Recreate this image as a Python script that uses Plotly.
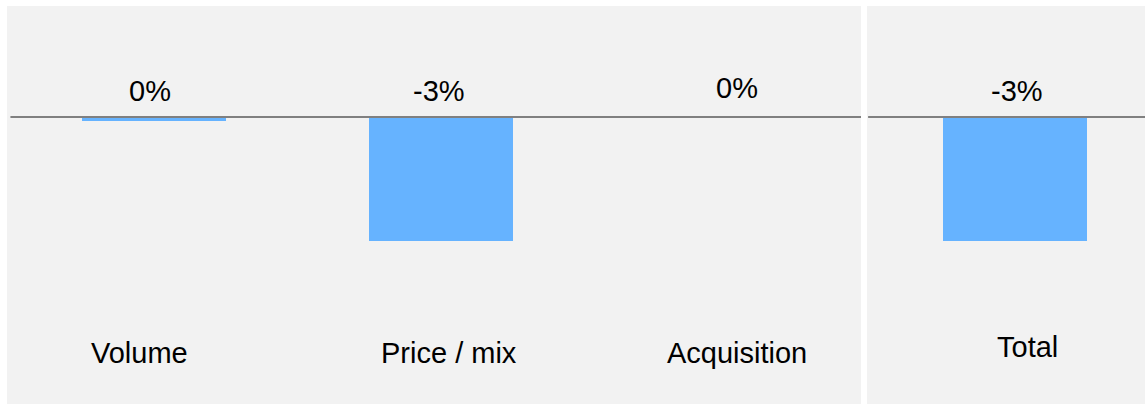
import plotly.graph_objects as go

# ---- data ----
categories = ["Volume", "Price / mix", "Acquisition"]
values = [-0.1, -3.0, 0.0]
value_labels = ["0%", "-3%", "0%"]
total_category = "Total"
total_value = -3.0
total_label = "-3%"

# ---- style ----
W, H = 1145, 404
BG = "#f2f2f2"
BAR = "#66b3ff"
LINE = "#808080"
FONT = dict(family="Liberation Sans, Arial, sans-serif", size=29, color="#000000")

x_left = list(range(len(categories)))
x_right = [0]

fig = go.Figure()
fig.add_trace(go.Bar(x=x_left, y=values, width=0.5, marker=dict(color=BAR, line=dict(width=0)),
                     xaxis="x", yaxis="y", hoverinfo="skip", showlegend=False))
fig.add_trace(go.Bar(x=x_right, y=[total_value], width=0.5, marker=dict(color=BAR, line=dict(width=0)),
                     xaxis="x2", yaxis="y2", hoverinfo="skip", showlegend=False))

px_per_cat = 287.2
px_per_unit = 41.33
zero_px = 117
top_px, bot_px = 6, 404
yrange = [-(bot_px - zero_px) / px_per_unit, (zero_px - top_px) / px_per_unit]

l0, l1 = 7, 861
r0, r1 = 867, 1145
c_left, c_right = 154, 1015

common_x = dict(showgrid=False, zeroline=False, showticklabels=False, showline=False, ticks="", fixedrange=True)
common_y = dict(showgrid=False, zeroline=False, showticklabels=False, showline=False, ticks="",
                range=yrange, domain=[0, 1 - top_px / H], fixedrange=True)

fig.update_layout(
    width=W, height=H,
    margin=dict(l=0, r=0, t=0, b=0),
    paper_bgcolor="white",
    plot_bgcolor=BG,
    bargap=0,
    xaxis=dict(domain=[l0 / W, l1 / W],
               range=[(l0 - c_left) / px_per_cat, (l1 - c_left) / px_per_cat], **common_x),
    xaxis2=dict(domain=[r0 / W, r1 / W],
                range=[(r0 - c_right) / px_per_cat, (r1 - c_right) / px_per_cat], **common_x),
    yaxis=dict(anchor="x", **common_y),
    yaxis2=dict(anchor="x2", **common_y),
)

# baseline lines
fig.add_shape(type="line", xref="x domain", yref="y", x0=0.004, x1=1, y0=0, y1=0,
              line=dict(color=LINE, width=2), layer="above")
fig.add_shape(type="line", xref="x2 domain", yref="y2", x0=0.004, x1=1, y0=0, y1=0,
              line=dict(color=LINE, width=2), layer="above")

# value labels
val_xshift = [-4, -2.5, 9]
val_yshift = [26, 26, 29]
for xi, lab, dx, dy in zip(x_left, value_labels, val_xshift, val_yshift):
    fig.add_annotation(x=xi, y=0, xref="x", yref="y", text=lab, showarrow=False,
                       xanchor="center", yanchor="middle", xshift=dx, yshift=dy, font=FONT)
fig.add_annotation(x=x_right[0], y=0, xref="x2", yref="y2", text=total_label, showarrow=False,
                   xanchor="center", yanchor="middle", xshift=2, yshift=26, font=FONT)

# category labels
cat_xshift = [-14.5, 7.5, 9]
cat_yshift = [-236, -236.3, -235.5]
for xi, lab, dx, dy in zip(x_left, categories, cat_xshift, cat_yshift):
    fig.add_annotation(x=xi, y=0, xref="x", yref="y", text=lab, showarrow=False,
                       xanchor="center", yanchor="middle", xshift=dx, yshift=dy, font=FONT)
fig.add_annotation(x=x_right[0], y=0, xref="x2", yref="y2", text=total_category, showarrow=False,
                   xanchor="center", yanchor="middle", xshift=12, yshift=-229.7, font=FONT)

fig.write_html("out.html", config={"displayModeBar": False},
               post_script="document.body.style.margin='0';document.body.style.overflow='hidden';")
